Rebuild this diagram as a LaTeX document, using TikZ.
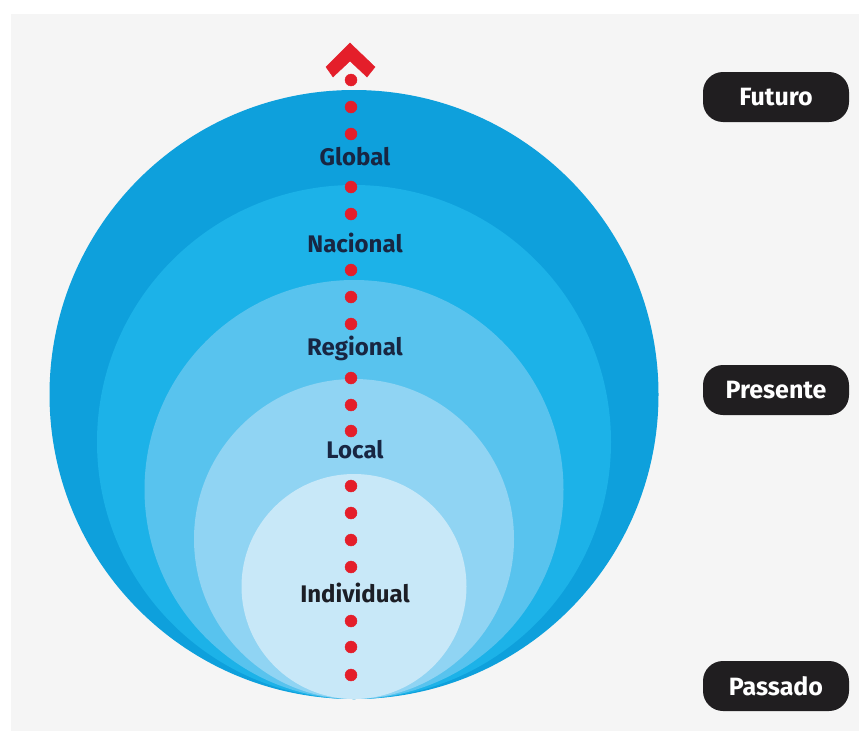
\documentclass[tikz,border=0pt]{standalone}
\usepackage{fontspec}
\setmainfont{Fira Sans}
\usepackage{tikz}

\definecolor{ringA}{RGB}{14,160,220}
\definecolor{ringB}{RGB}{28,178,232}
\definecolor{ringC}{RGB}{88,195,238}
\definecolor{ringD}{RGB}{144,212,243}
\definecolor{ringE}{RGB}{200,232,248}
\definecolor{dotred}{RGB}{228,30,42}
\definecolor{navy}{RGB}{24,38,66}
\definecolor{ink}{RGB}{28,30,38}
\definecolor{pillgray}{RGB}{32,30,32}
\definecolor{paper}{RGB}{245,245,245}

\begin{document}
\begin{tikzpicture}[x = 1pt, y = -1pt,
	level/.style = {text = navy, font = \fontsize{24}{26}\selectfont\bfseries},
	pill/.style = {rectangle, rounded corners = 20pt, fill = pillgray, text = white,
		minimum width = 146pt, minimum height = 50pt,
		font = \fontsize{25}{27}\selectfont\bfseries}]

\useasboundingbox (0,0) rectangle (859,731);

%% Background

\fill [white] (0,0) rectangle (859,731);
\fill [paper] (11,14) rectangle (859,731);

%% Draw Circles

\fill [ringA] (354, 394.5) circle (304.5);
\fill [ringB] (354, 442) circle (257);
\fill [ringC] (354, 489.5) circle (209.5);
\fill [ringD] (354, 539) circle (160);
\fill [ringE] (354, 586.5) circle (112.5);

%% Draw Dots

\foreach \y in {80, 107, 134, 187, 214, 270, 297, 324, 378, 405, 431, 486, 513, 540, 567, 621, 647, 675}{
	\filldraw [dotred] (351, \y) circle (6);
}

%% Draw Arrow Head

\filldraw [dotred] (326,67) -- (350,43) -- (375,67) -- (367,77) -- (350,61) -- (333,77) -- cycle;

%% Levels

\node[level] (global) at (355, 157) {Global};
\node[level] (nacional) at (355, 243) {Nacional};
\node[level] (regional) at (355, 348) {Regional};
\node[level] (local) at (355, 450) {Local};
\node[level, text = ink] (individual) at (355, 593) {Individual};

%% Time

\node[pill] (futuro) at (776, 97) {Futuro};
\node[pill] (presente) at (776, 390) {Presente};
\node[pill] (passado) at (776, 686) {Passado};

\end{tikzpicture}
\end{document}
